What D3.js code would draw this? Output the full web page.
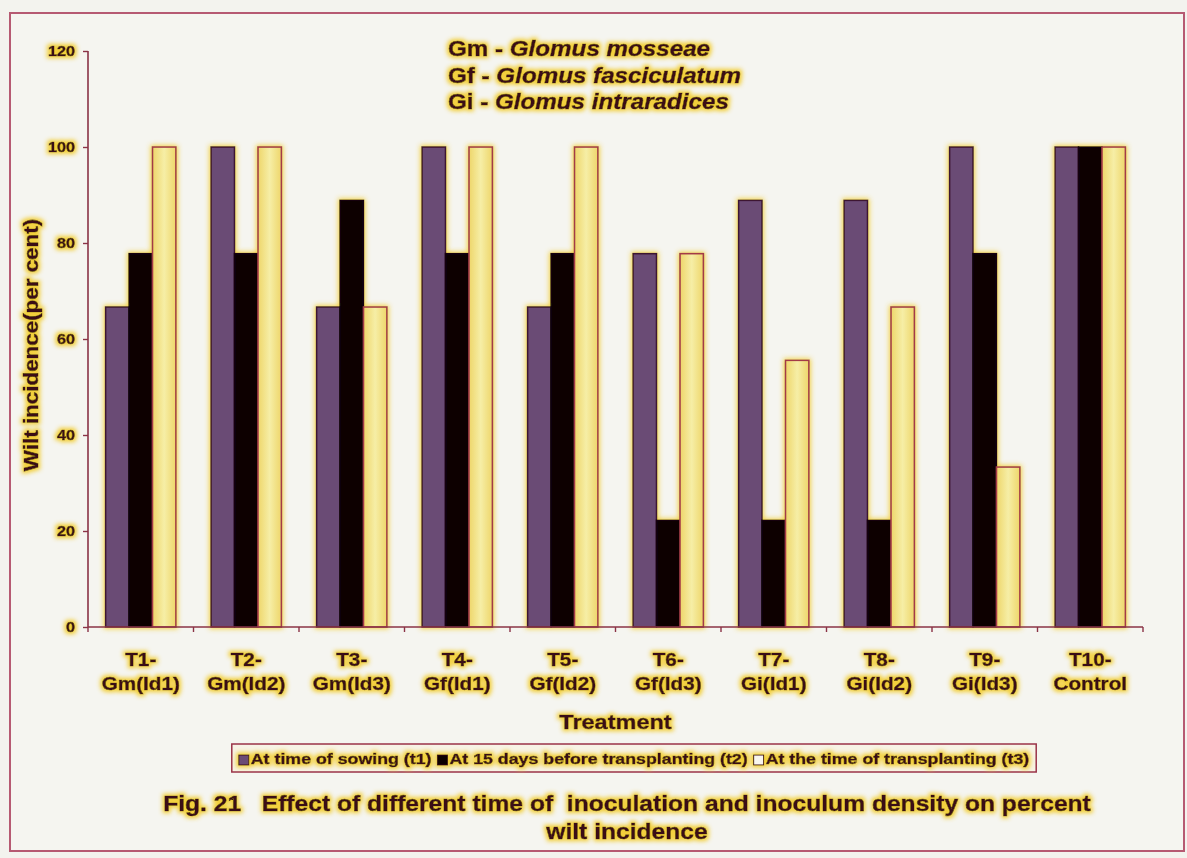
<!DOCTYPE html>
<html>
<head>
<meta charset="utf-8">
<script src="https://cdn.jsdelivr.net/npm/d3@7"></script>
<style>
  html, body { margin: 0; padding: 0; background: #f3f3ee; }
  svg { display: block; }
  text { font-family: "Liberation Sans", Arial, sans-serif; font-weight: bold; fill: #3a0b14; stroke: #3a0b14; stroke-width: 0.55; white-space: pre; }
</style>
</head>
<body>
<svg id="chart" width="1187" height="858"></svg>
<script>
// Treatments (two-line axis labels)
const treatmentCodes = ["T1-", "T2-", "T3-", "T4-", "T5-", "T6-", "T7-", "T8-", "T9-", "T10-"];
const treatmentNames = ["Gm(Id1)", "Gm(Id2)", "Gm(Id3)", "Gf(Id1)", "Gf(Id2)", "Gf(Id3)", "Gi(Id1)", "Gi(Id2)", "Gi(Id3)", "Control"];

// Wilt incidence (per cent) for each time of inoculation
const sowingT1       = [66.67, 100,   66.67, 100,   66.67, 77.78, 88.89, 88.89, 100,   100];
const beforeTransT2  = [77.78, 77.78, 88.89, 77.78, 77.78, 22.22, 22.22, 22.22, 77.78, 100];
const atTransT3      = [100,   100,   66.67, 100,   100,   77.78, 55.56, 66.67, 33.33, 100];

const seriesNames = ["At time of sowing (t1)", "At 15 days before transplanting (t2)", "At the time of transplanting (t3)"];
const yTicks = [0, 20, 40, 60, 80, 100, 120];

const speciesKey = [
  ["Gm - ", "Glomus mosseae"],
  ["Gf - ", "Glomus fasciculatum"],
  ["Gi - ", "Glomus intraradices"]
];
const titleLines = [
  "Fig. 21   Effect of different time of  inoculation and inoculum density on percent",
  "wilt incidence"
];

const seriesValues = [sowingT1, beforeTransT2, atTransT3];
const SX = 1.12; // horizontal stretch of all lettering

const svg = d3.select("#chart");
const defs = svg.append("defs");

// yellow halo used on lettering and bars
function makeGlow(id, radius, blur, opacity, soften) {
  const f = defs.append("filter").attr("id", id)
    .attr("x", "-30%").attr("y", "-60%").attr("width", "160%").attr("height", "220%");
  f.append("feMorphology").attr("in", "SourceAlpha").attr("operator", "dilate").attr("radius", radius).attr("result", "dil");
  f.append("feGaussianBlur").attr("in", "dil").attr("stdDeviation", blur).attr("result", "blur");
  f.append("feFlood").attr("flood-color", "#f2cf3a").attr("flood-opacity", opacity);
  f.append("feComposite").attr("in2", "blur").attr("operator", "in").attr("result", "halo");
  f.append("feGaussianBlur").attr("in", "SourceGraphic").attr("stdDeviation", soften).attr("result", "soft");
  const m = f.append("feMerge");
  m.append("feMergeNode").attr("in", "halo");
  m.append("feMergeNode").attr("in", "soft");
}
makeGlow("textGlow", 1.8, 2.2, 1, 0.5);
makeGlow("barGlow", 1.4, 2.8, 0.95, 0.4);

const yellowGrad = defs.append("linearGradient").attr("id", "yellowFill")
  .attr("x1", "0").attr("x2", "1").attr("y1", "0").attr("y2", "0");
yellowGrad.append("stop").attr("offset", "0").attr("stop-color", "#eed66a");
yellowGrad.append("stop").attr("offset", "0.5").attr("stop-color", "#f6eea6");
yellowGrad.append("stop").attr("offset", "1").attr("stop-color", "#eed66a");

const fills = ["#6a4b75", "#0b0306", "url(#yellowFill)"];
const strokes = ["#3e1530", "#12040a", "#a33a46"];
const legendFills = ["#6a4b75", "#0b0306", "#f8f6ee"];

// outer frame
svg.append("rect").attr("x", 10).attr("y", 13).attr("width", 1174).attr("height", 838)
  .attr("fill", "#f5f5f0").attr("stroke", "#b65a72").attr("stroke-width", 2);

const plot = { left: 88, right: 1143, top: 51, bottom: 627 };

const x0 = d3.scaleBand().domain(d3.range(treatmentCodes.length))
  .range([plot.left, plot.right]).paddingInner(1 / 3).paddingOuter(1 / 6);
const x1 = d3.scaleBand().domain(d3.range(seriesValues.length)).range([0, x0.bandwidth()]);
const y = d3.scaleLinear().domain([0, 120]).range([plot.bottom, plot.top]);

function stretched(sel, x, y, rotate, sx) {
  return sel.attr("transform", `translate(${x},${y})` + (rotate ? ` rotate(${rotate})` : "") + ` scale(${sx || SX},1)`);
}

// bars
const barLayer = svg.append("g").attr("filter", "url(#barGlow)");
const groups = barLayer.selectAll("g.grp").data(treatmentCodes.map((d, i) => i)).join("g")
  .attr("class", "grp").attr("transform", i => `translate(${x0(i)},0)`);
groups.selectAll("rect").data(i => seriesValues.map((s, k) => ({ k, v: s[i] }))).join("rect")
  .attr("x", d => x1(d.k))
  .attr("y", d => y(d.v))
  .attr("width", x1.bandwidth())
  .attr("height", d => y(0) - y(d.v))
  .attr("fill", d => fills[d.k])
  .attr("stroke", d => strokes[d.k])
  .attr("stroke-width", 1.6);

// axes
const axisColor = "#8a3346";
const yAxis = svg.append("g").attr("transform", `translate(${plot.left},0)`)
  .call(d3.axisLeft(y).tickValues(yTicks).tickSize(5).tickFormat(""));
yAxis.select(".domain").attr("stroke", axisColor).attr("stroke-width", 1.6).attr("d", `M0,${plot.top}V${plot.bottom}`);
yAxis.selectAll(".tick line").attr("stroke", axisColor).attr("stroke-width", 1.4);

const xAxisG = svg.append("g");
xAxisG.append("line").attr("x1", plot.left).attr("x2", plot.right).attr("y1", plot.bottom).attr("y2", plot.bottom)
  .attr("stroke", axisColor).attr("stroke-width", 1.6);
const boundaries = d3.range(treatmentCodes.length + 1).map(i => plot.left + i * x0.step());
xAxisG.selectAll("line.tk").data(boundaries).join("line").attr("class", "tk")
  .attr("x1", d => d).attr("x2", d => d).attr("y1", plot.bottom).attr("y2", plot.bottom + 5)
  .attr("stroke", axisColor).attr("stroke-width", 1.4);

// legend frame (drawn beneath the lettering)
const legendBox = svg.append("rect").attr("fill", "#f7f3e6").attr("stroke", "#9a3348").attr("stroke-width", 1.5);

// lettering
const lettering = svg.append("g").attr("filter", "url(#textGlow)");

lettering.selectAll("text.ytick").data(yTicks).join("text").attr("class", "ytick")
  .attr("text-anchor", "end").attr("font-size", 14.5).attr("dy", "0.36em")
  .each(function (d) { stretched(d3.select(this), 75, y(d)); })
  .text(d => d);

const xc = i => x0(i) + x0.bandwidth() / 2;
lettering.selectAll("text.xcode").data(treatmentCodes).join("text").attr("class", "xcode")
  .attr("text-anchor", "middle").attr("font-size", 18.5)
  .each(function (d, i) { stretched(d3.select(this), xc(i), 666); })
  .text(d => d);
lettering.selectAll("text.xname").data(treatmentNames).join("text").attr("class", "xname")
  .attr("text-anchor", "middle").attr("font-size", 18.5)
  .each(function (d, i) { stretched(d3.select(this), xc(i), 690); })
  .text(d => d);

stretched(lettering.append("text"), (plot.left + plot.right) / 2, 729)
  .attr("text-anchor", "middle").attr("font-size", 21).text("Treatment");

stretched(lettering.append("text"), 38, 345, -90)
  .attr("text-anchor", "middle").attr("font-size", 20).text("Wilt incidence(per cent)");

// species key
speciesKey.forEach((row, i) => {
  const t = stretched(lettering.append("text"), 448, 56 + i * 26.5).attr("font-size", 21.6);
  t.append("tspan").text(row[0]);
  t.append("tspan").attr("font-style", "italic").text(row[1]);
});

// figure caption
titleLines.forEach((line, i) => {
  stretched(lettering.append("text"), 627, 811 + i * 28)
    .attr("text-anchor", "middle").attr("font-size", 22).text(line);
});

// legend entries
const legendItems = lettering.append("g");
const LSX = 1.17;
let lx = 0;
const sym = 10, symGap = 2, itemGap = 6;
seriesNames.forEach((name, k) => {
  const g = legendItems.append("g");
  g.append("rect").attr("x", lx).attr("y", -sym + 1).attr("width", sym).attr("height", sym)
    .attr("fill", legendFills[k]).attr("stroke", "#3a0b14").attr("stroke-width", 1);
  const t = g.append("text").attr("font-size", 15.2).text(name);
  const w = t.node().getComputedTextLength() * LSX;
  stretched(t, lx + sym + symGap, 0, 0, LSX);
  lx += sym + symGap + w + itemGap;
});
const legendWidth = lx - itemGap;
const legendCx = 634, legendBase = 764;
legendItems.attr("transform", `translate(${legendCx - legendWidth / 2},${legendBase})`);
legendBox.attr("x", legendCx - legendWidth / 2 - 7).attr("y", 744)
  .attr("width", legendWidth + 14).attr("height", 28);
</script>
</body>
</html>
